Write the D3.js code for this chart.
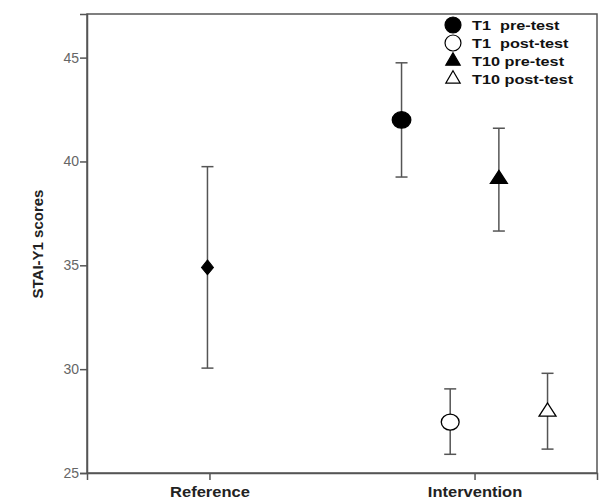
<!DOCTYPE html>
<html>
<head>
<meta charset="utf-8">
<script src="https://d3js.org/d3.v7.min.js"></script>
<style>
  body { margin: 0; background: #fff; }
  text { font-family: "Liberation Sans", Arial, sans-serif; }
</style>
</head>
<body>
<script>
// Data
var groups = ["Reference", "Intervention"];
var series = ["Reference", "T1  pre-test", "T1  post-test", "T10 pre-test", "T10 post-test"];
var seriesGroup = ["Reference", "Intervention", "Intervention", "Intervention", "Intervention"];
var means = [34.9, 42.0, 27.45, 39.15, 27.95];
var lower = [30.05, 39.25, 25.9, 36.65, 26.15];
var upper = [39.75, 44.75, 29.05, 41.6, 29.8];
var yTicks = [25, 30, 35, 40, 45];
var legendSeries = series.slice(1);

// Set graph margins and dimensions
var margin = {top: 14, right: 8, bottom: 26, left: 87},
    width = 605 - margin.left - margin.right,
    height = 499 - margin.top - margin.bottom;

var svg = d3.select("body").append("svg")
    .attr("width", 605)
    .attr("height", 499)
  .append("g")
    .attr("transform", "translate(" + margin.left + "," + margin.top + ")");

// Scales
var x = d3.scalePoint().domain(groups).range([0, width]).padding(0.462);
var offset = d3.scalePoint().domain(legendSeries).range([-73, 73]);
var y = d3.scaleLinear().domain([25, 47.1]).range([height, 0]);

function px(i) {
  var g = seriesGroup[i];
  return x(g) + (g === "Intervention" ? offset(series[i]) : -2);
}

// Frame
svg.append("rect")
    .attr("width", width).attr("height", height)
    .attr("fill", "none").attr("stroke", "#555").attr("stroke-width", 1.5);

// Axes
var yAxis = svg.append("g")
    .call(d3.axisLeft(y).tickValues(yTicks).tickSize(7).tickPadding(1));
var xAxis = svg.append("g")
    .attr("transform", "translate(0," + height + ")")
    .call(d3.axisBottom(x).tickSize(7).tickPadding(2));
[yAxis, xAxis].forEach(function(a) {
  a.select(".domain").attr("stroke", "#555").attr("stroke-width", 1.5);
  a.selectAll(".tick line").attr("stroke", "#555").attr("stroke-width", 1.5);
});
yAxis.selectAll(".tick text").attr("font-size", 14).attr("fill", "#666")
    .style("font-family", "'Liberation Sans', Arial, sans-serif");
xAxis.selectAll(".tick text").attr("font-size", 14).attr("font-weight", "bold")
    .attr("fill", "#222").attr("dy", "1.05em")
    .attr("transform", "scale(1.18,1)")
    .style("font-family", "'Liberation Sans', Arial, sans-serif");

svg.append("text")
    .attr("transform", "translate(-44," + (244 - margin.top) + ") rotate(-90)")
    .attr("text-anchor", "middle")
    .attr("font-size", 15).attr("font-weight", "bold").attr("fill", "#222")
    .text("STAI-Y1 scores");

// Error bars
var idx = d3.range(series.length);
var bars = svg.selectAll(".err").data(idx).enter().append("g")
    .attr("stroke", "#555").attr("stroke-width", 1.5);
bars.append("line")
    .attr("x1", px).attr("x2", px)
    .attr("y1", function(i) { return y(lower[i]); })
    .attr("y2", function(i) { return y(upper[i]); });
bars.append("line")
    .attr("x1", function(i) { return px(i) - 6; }).attr("x2", function(i) { return px(i) + 6; })
    .attr("y1", function(i) { return y(lower[i]); }).attr("y2", function(i) { return y(lower[i]); });
bars.append("line")
    .attr("x1", function(i) { return px(i) - 6; }).attr("x2", function(i) { return px(i) + 6; })
    .attr("y1", function(i) { return y(upper[i]); }).attr("y2", function(i) { return y(upper[i]); });

// Markers
var shapes = {
  "Reference": {type: d3.symbolDiamond, size: 110, fill: "#000"},
  "T1  pre-test": {type: d3.symbolCircle, size: 215, fill: "#000"},
  "T1  post-test": {type: d3.symbolCircle, size: 200, fill: "#fff"},
  "T10 pre-test": {type: d3.symbolTriangle, size: 100, fill: "#000"},
  "T10 post-test": {type: d3.symbolTriangle, size: 100, fill: "#fff"}
};
function sym(name) { return d3.symbol().type(shapes[name].type).size(shapes[name].size)(); }

svg.selectAll(".pt").data(idx).enter().append("path")
    .attr("d", function(i) { return sym(series[i]); })
    .attr("transform", function(i) {
      var s = series[i] === "Reference" ? " scale(1.05,0.75)" : " scale(1.12,1)";
      return "translate(" + px(i) + "," + y(means[i]) + ")" + s;
    })
    .attr("fill", function(i) { return shapes[series[i]].fill; })
    .attr("stroke", "#000").attr("stroke-width", 1.2);

// Legend
var legend = svg.append("g").attr("transform", "translate(" + (453 - margin.left) + "," + (25 - margin.top) + ")");
var rows = legend.selectAll("g").data(legendSeries).enter().append("g")
    .attr("transform", function(d, i) { return "translate(0," + (i * 18) + ")"; });
rows.append("path")
    .attr("d", function(d) {
      var s = shapes[d];
      return d3.symbol().type(s.type).size(s.type === d3.symbolCircle ? 200 : 90)();
    })
    .attr("fill", function(d) { return shapes[d].fill; })
    .attr("stroke", "#000").attr("stroke-width", 1.2);
rows.append("text")
    .attr("transform", "translate(19,5) scale(1.25,1)")
    .attr("font-size", 13).attr("font-weight", "bold").attr("fill", "#111")
    .style("white-space", "pre")
    .text(function(d) { return d; });
</script>
</body>
</html>
